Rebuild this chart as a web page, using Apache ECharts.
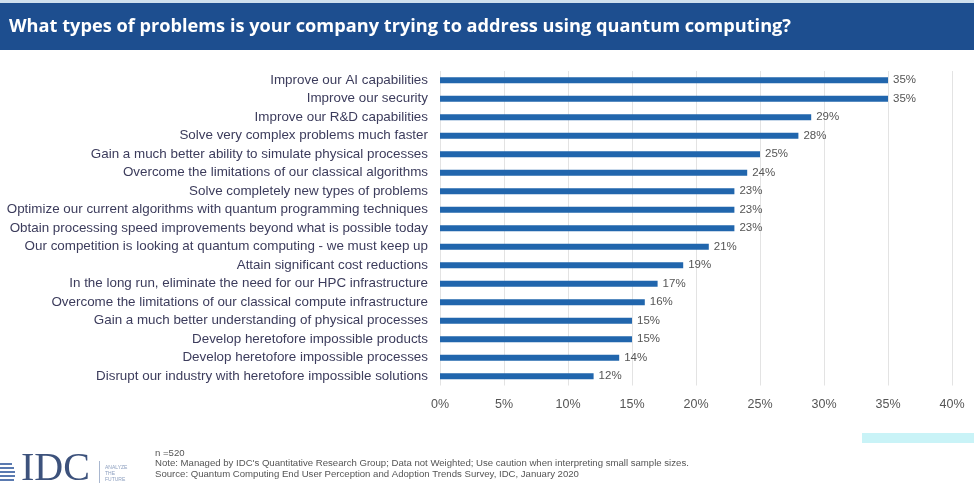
<!DOCTYPE html>
<html><head><meta charset="utf-8">
<script src="https://cdn.jsdelivr.net/npm/echarts@6/dist/echarts.min.js"></script>
<style>html,body{margin:0;padding:0;background:#fff}#c{width:974px;height:483px}</style>
</head><body><div id="c"></div>
<script>
const categories = [
  "Improve our AI capabilities",
  "Improve our security",
  "Improve our R&D capabilities",
  "Solve very complex problems much faster",
  "Gain a much better ability to simulate physical processes",
  "Overcome the limitations of our classical algorithms",
  "Solve completely new types of problems",
  "Optimize our current algorithms with quantum programming techniques",
  "Obtain processing speed improvements beyond what is possible today",
  "Our competition is looking at quantum computing - we must keep up",
  "Attain significant cost reductions",
  "In the long run, eliminate the need for our HPC infrastructure",
  "Overcome the limitations of our classical compute infrastructure",
  "Gain a much better understanding of physical processes",
  "Develop heretofore impossible products",
  "Develop heretofore impossible processes",
  "Disrupt our industry with heretofore impossible solutions"
];
const values = [35, 35, 29, 28, 25, 24, 23, 23, 23, 21, 19, 17, 16, 15, 15, 14, 12];
const titleText = "What types of problems is your company trying to address using quantum computing?";
const footnotes = [
  "n =520",
  "Note: Managed by IDC's Quantitative Research Group; Data not Weighted; Use caution when interpreting small sample sizes.",
  "Source: Quantum Computing End User Perception and Adoption Trends Survey, IDC, January 2020"
];
const logoTagline = "ANALYZE\nTHE\nFUTURE";

const chart = echarts.init(document.getElementById('c'), null, {renderer: 'canvas'});
chart.setOption({
  backgroundColor: '#ffffff',
  animation: false,
  grid: {left: 440, right: 22, top: 71, bottom: 97.5, containLabel: false},
  xAxis: {
    type: 'value', min: 0, max: 40, interval: 5,
    axisLine: {show: false}, axisTick: {show: false},
    splitLine: {show: true, lineStyle: {color: '#e3e3e3', width: 1}},
    axisLabel: {formatter: '{value}%', color: '#555', fontSize: 12.5, fontFamily: 'Liberation Sans', margin: 13}
  },
  yAxis: {
    type: 'category', data: categories, inverse: true,
    axisLine: {show: false}, axisTick: {show: false},
    axisLabel: {color: '#3c3c5c', fontSize: 13.4, fontFamily: 'Liberation Sans', margin: 12}
  },
  series: [{
    type: 'bar', data: values, barWidth: 6,
    itemStyle: {color: '#2166ad'},
    label: {show: true, position: 'right', formatter: '{c}%', color: '#555', fontSize: 11.5, fontFamily: 'Liberation Sans', distance: 5}
  }],
  graphic: [
    {type: 'rect', shape: {x: 0, y: 0, width: 974, height: 3}, style: {fill: '#cfe0ee'}},
    {type: 'rect', shape: {x: 0, y: 3, width: 974, height: 47}, style: {fill: '#1d4e8f'}},
    {type: 'text', left: 9, top: 18, style: {text: titleText, fill: '#ffffff', font: 'bold 18.2px "Open Sans"'}},
    {type: 'rect', shape: {x: 862, y: 433, width: 112, height: 10}, style: {fill: '#c9f3f7'}},
    // IDC logo
    {type: 'group', left: 0, top: 449, children: [
      {type: 'rect', shape: {x: 0, y: 3, width: 12, height: 2}, style: {fill: '#5a7ab0'}},
      {type: 'rect', shape: {x: 0, y: 7, width: 14, height: 2}, style: {fill: '#5a7ab0'}},
      {type: 'rect', shape: {x: 0, y: 11, width: 15, height: 2}, style: {fill: '#5a7ab0'}},
      {type: 'rect', shape: {x: 0, y: 15, width: 15, height: 2}, style: {fill: '#5a7ab0'}},
      {type: 'rect', shape: {x: 0, y: 19, width: 14, height: 2}, style: {fill: '#5a7ab0'}},
      {type: 'rect', shape: {x: 0, y: 23, width: 12, height: 2}, style: {fill: '#5a7ab0'}},
      {type: 'text', x: 21, y: -11, style: {text: 'IDC', fill: '#3d527c', font: '40px "Liberation Serif"'}},
      {type: 'rect', shape: {x: 99, y: 1, width: 1, height: 27}, style: {fill: '#a9b7cf'}},
      {type: 'text', x: 105, y: 5, style: {text: logoTagline, fill: '#8ea0c0', font: '5px "Liberation Sans"', lineHeight: 6}}
    ]},
    {type: 'text', x: 155, y: 448, style: {text: footnotes.join('\n'), fill: '#555', font: '9.6px "Liberation Sans"', lineHeight: 10.5}}
  ]
});
</script></body></html>
